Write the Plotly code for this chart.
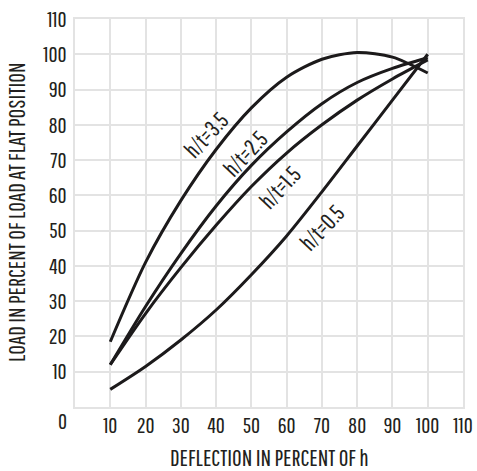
import plotly.graph_objects as go

deflection = [10, 20, 30, 40, 50, 60, 70, 80, 90, 100]
load_35 = [18.5, 41, 58.5, 73, 84.8, 93.5, 98.6, 100.5, 99.2, 94.7]
load_25 = [12, 28.5, 43.5, 57, 68.5, 78, 86, 92, 96, 99]
load_15 = [12, 26.5, 39.5, 51.5, 62.5, 72, 80, 87, 93, 98.4]
load_05 = [5, 11.5, 19, 27.5, 37.5, 48.5, 61, 74, 87, 100]
series_names = ["h/t=3.5", "h/t=2.5", "h/t=1.5", "h/t=0.5"]
x_ticks = [10, 20, 30, 40, 50, 60, 70, 80, 90, 100, 110]
y_ticks = [10, 20, 30, 40, 50, 60, 70, 80, 90, 100, 110]

FONT = "Pathway Gothic One, Roboto Condensed, PT Sans Narrow, Archivo Narrow, sans-serif"
LINE = "#1c1a1b"
TXT = "#231f20"

fig = go.Figure()
for name, ys in zip(series_names, [load_35, load_25, load_15, load_05]):
    fig.add_trace(go.Scatter(x=deflection, y=ys, mode="lines", name=name,
                             line=dict(color=LINE, width=3, shape="spline", smoothing=0.8)))

# curve label positions (layout)
label_pos = [(37.2, 77.2), (48.2, 72.0), (58.0, 62.2), (70.0, 50.8)]
annotations = []
for name, (lx, ly) in zip(series_names, label_pos):
    annotations.append(dict(x=lx, y=ly, xref="x", yref="y", text=name, showarrow=False,
                            textangle=-47, font=dict(family=FONT, size=23, color=TXT)))

annotations.append(dict(x=0, y=0, xref="paper", yref="paper", text="0", showarrow=False,
                        xanchor="right", yanchor="middle", xshift=-6, yshift=-13,
                        font=dict(family=FONT, size=22, color=TXT)))
annotations.append(dict(x=0.5, y=0, xref="paper", yref="paper",
                        text="DEFLECTION IN PERCENT OF h", showarrow=False,
                        xanchor="center", yanchor="middle", yshift=-50,
                        font=dict(family=FONT, size=23.5, color=TXT)))
annotations.append(dict(x=0, y=0.5, xref="paper", yref="paper",
                        text="LOAD IN PERCENT OF LOAD AT FLAT POSITION", showarrow=False,
                        textangle=-90, xanchor="center", yanchor="middle", xshift=-59,
                        font=dict(family=FONT, size=23.5, color=TXT)))

axis_common = dict(range=[0, 110], showgrid=True, gridcolor="#e3e3e3", gridwidth=2,
                   zeroline=False, showline=True, linecolor="#e3e3e3", linewidth=2,
                   mirror=True, ticks="", automargin=False, ticklabeloverflow="allow",
                   tickfont=dict(family=FONT, size=22, color=TXT))

fig.update_layout(
    width=477, height=471,
    margin=dict(l=75, r=14, t=19, b=64),
    paper_bgcolor="white", plot_bgcolor="white",
    showlegend=False,
    xaxis=dict(**axis_common, tickvals=x_ticks, ticklabelstandoff=-2),
    yaxis=dict(**axis_common, tickvals=y_ticks, ticklabelstandoff=2),
    annotations=annotations,
)

fig.write_html("out.html", config={"displayModeBar": False},
               post_script="document.body.style.margin='0';document.body.style.overflow='hidden';")
